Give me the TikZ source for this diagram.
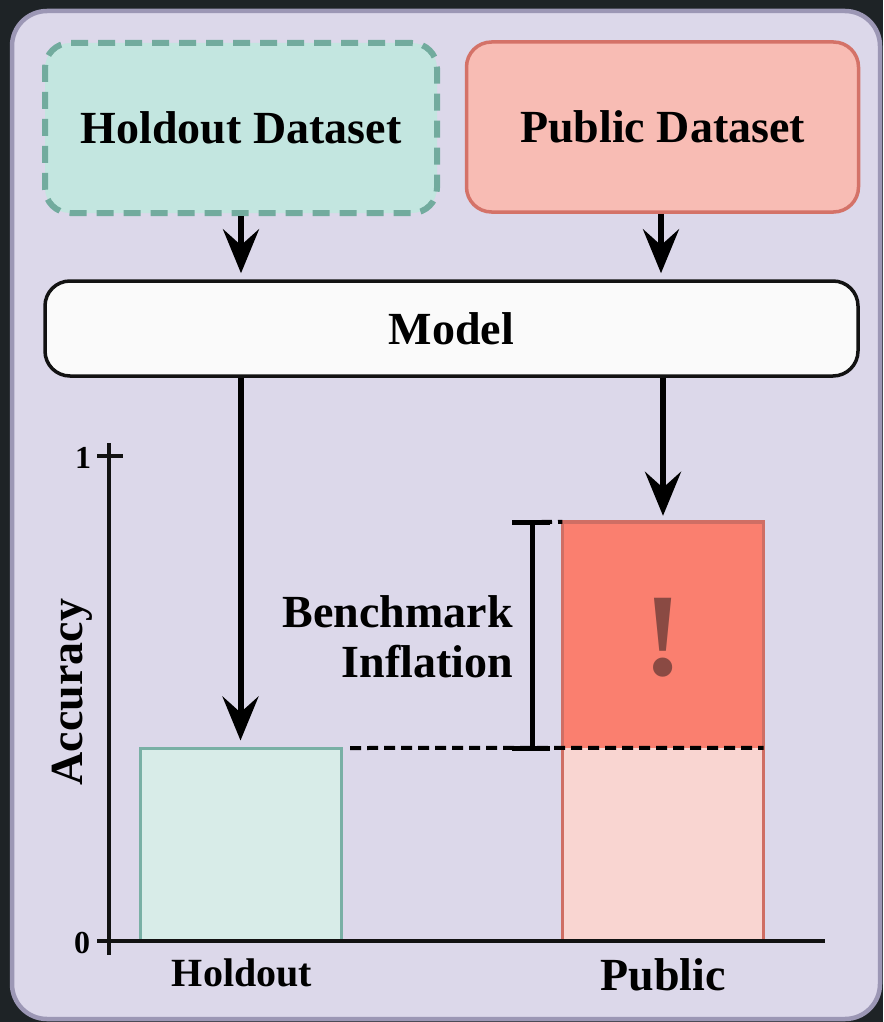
\documentclass[tikz,border=0pt]{standalone}
\usepackage{fontspec}
\setmainfont{Liberation Serif}
\usetikzlibrary{arrows.meta}

\definecolor{darkbg}{HTML}{1E2326}
\definecolor{panelfill}{HTML}{DCD8EA}
\definecolor{paneledge}{HTML}{9C97B5}
\definecolor{holdfill}{HTML}{C3E6E0}
\definecolor{holdedge}{HTML}{72AB9E}
\definecolor{pubfill}{HTML}{F8BCB4}
\definecolor{pubedge}{HTML}{D47268}
\definecolor{modelfill}{HTML}{FAFAFA}
\definecolor{holdbarfill}{HTML}{D8ECE8}
\definecolor{holdbaredge}{HTML}{79B0A5}
\definecolor{pubbarlow}{HTML}{F9D5D1}
\definecolor{pubbarhigh}{HTML}{FA7F6F}
\definecolor{pubbaredge}{HTML}{CF6E64}
\definecolor{bangcolor}{HTML}{8A4A43}

\tikzset{
  bigfont/.style={font=\fontsize{46}{50}\selectfont\bfseries},
  databox/.style={rounded corners=25pt, minimum width=392pt, minimum height=170pt,
    inner sep=0pt, bigfont, text=black},
  holdbox/.style={databox, fill=holdfill, draw=holdedge, line width=6pt,
    dash pattern=on 17pt off 10pt},
  pubbox/.style={databox, fill=pubfill, draw=pubedge, line width=3.5pt},
  modelbox/.style={rounded corners=25pt, minimum width=813pt, minimum height=95pt,
    inner sep=0pt, fill=modelfill, draw=black!93, line width=3.5pt, bigfont},
  flow/.style={line width=6pt, -{Stealth[length=44pt,width=36pt,inset=16pt]},
    shorten >=6pt},
  axisline/.style={line width=4pt, black!93},
  guide/.style={line width=4pt, dash pattern=on 11pt off 6pt},
  barnode/.style={inner sep=0pt, minimum width=201pt},
  ticklabel/.style={font=\fontsize{32}{32}\selectfont\bfseries},
}

\begin{document}
\begin{tikzpicture}[x=1pt,y=-1pt]
  \useasboundingbox (0,0) rectangle (883,1022);
  % page background and panel
  \fill[darkbg] (0,0) rectangle (883,1022);
  \draw[fill=panelfill, draw=paneledge, line width=4.5pt, rounded corners=35pt]
    (12,11) rectangle (880,1019);

  % dataset boxes and the model
  \node[holdbox] (hold) at (241,128) {Holdout Dataset};
  \node[pubbox]  (pub)  at (662.5,127) {Public Dataset};
  \node[modelbox] (model) at (451.5,328.5) {Model};

  % bars
  \node[barnode, minimum height=193pt, fill=holdbarfill, draw=holdbaredge,
        line width=3pt] (holdbar) at (240.5,844.5) {};
  \node[barnode, minimum height=193pt, fill=pubbarlow] (publow) at (663,844.5) {};
  \node[barnode, minimum height=226pt, fill=pubbarhigh] (pubhigh) at (663,635) {};
  \draw[pubbaredge, line width=3.5pt] (pubhigh.north west) rectangle (publow.south east);

  % exclamation mark on the inflated part
  \node[text=bangcolor, font=\fontsize{118}{118}\selectfont\bfseries] (bang)
    at (663,638) {!};

  % axes
  \draw[axisline] (109,443) -- (109,955);
  \draw[axisline] (97,941) -- (825,941);
  \draw[axisline] (97,456) -- (123,456);
  \node[ticklabel] (one) at (83,458) {1};
  \node[ticklabel] (zero) at (82,943) {0};
  \node[bigfont, rotate=90] (acc) at (72,692) {Accuracy};
  \node[font=\fontsize{40}{40}\selectfont\bfseries] (holdlbl) at (242,973) {Holdout};
  \node[bigfont] (publbl) at (663,975) {Public};

  % flow arrows
  \draw[flow] (hold.south) -- (hold.south |- model.north);
  \draw[flow] (pub.south -| 661,0) -- (model.north -| 661,0);
  \draw[flow] (model.south -| holdbar.north) -- (holdbar.north);
  \draw[flow] (model.south -| pubhigh.north) -- (pubhigh.north);

  % holdout level carried over to the public bar
  \coordinate (lvlstart) at (350,748);
  \coordinate (topstart) at (541,522);
  \draw[guide] (lvlstart) -- (publow.north east);
  \draw[guide] (topstart) -- (pubhigh.north west);

  % inflation bracket
  \coordinate (brtop) at (532,522);
  \coordinate (brbot) at (532,748);
  \draw[line width=5pt] (brtop) -- (brbot);
  \draw[line width=5pt] ([xshift=-20pt]brtop) -- ([xshift=18pt]brtop);
  \draw[line width=5pt] ([xshift=-20pt]brbot) -- ([xshift=18pt]brbot);
  \node[bigfont, align=right, anchor=east, inner sep=0pt] (infl) at (513,637)
    {Benchmark\\Inflation};
\end{tikzpicture}
\end{document}
